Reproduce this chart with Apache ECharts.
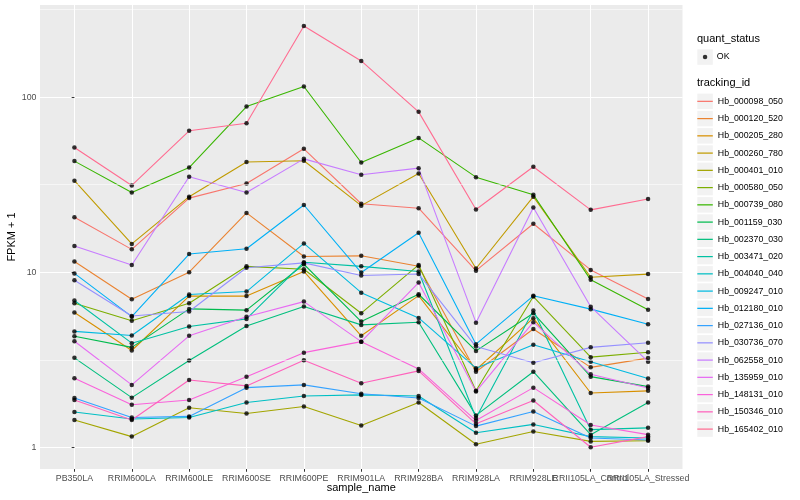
<!DOCTYPE html>
<html>
<head>
<meta charset="utf-8">
<script src="https://cdn.jsdelivr.net/npm/echarts@6/dist/echarts.min.js"></script>
<style>html,body{margin:0;padding:0;background:#fff}#c{width:800px;height:500px}</style>
</head>
<body>
<div id="c"></div>
<script>
const categories = ["PB350LA","RRIM600LA","RRIM600LE","RRIM600SE","RRIM600PE","RRIM901LA","RRIM928BA","RRIM928LA","RRIM928LE","RRII105LA_Control","RRII105LA_Stressed"];
const trackingIds = ["Hb_000098_050","Hb_000120_520","Hb_000205_280","Hb_000260_780","Hb_000401_010","Hb_000580_050","Hb_000739_080","Hb_001159_030","Hb_002370_030","Hb_003471_020","Hb_004040_040","Hb_009247_010","Hb_012180_010","Hb_027136_010","Hb_030736_070","Hb_062558_010","Hb_135959_010","Hb_148131_010","Hb_150346_010","Hb_165402_010"];
const colors = ["#F8766D","#EA8331","#D89000","#C09B00","#A3A500","#7CAE00","#39B600","#00BB4E","#00BF7D","#00C1A3","#00BFC4","#00BAE0","#00B0F6","#35A2FF","#9590FF","#C77CFF","#E76BF3","#FA62DB","#FF62BC","#FF6C91"];

// FPKM + 1 per sample, in category order
const Hb_000098_050 = [20.6, 13.5, 26.5, 32.1, 50.7, 24.6, 23.2, 10.2, 18.9, 10.3, 7.02];
const Hb_000120_520 = [11.5, 7.01, 10.0, 21.8, 12.3, 12.4, 10.8, 2.70, 4.74, 2.86, 3.23];
const Hb_000205_280 = [5.89, 3.57, 7.30, 7.30, 10.1, 4.33, 7.35, 2.77, 5.46, 2.04, 2.10];
const Hb_000260_780 = [33.3, 14.5, 27.0, 42.6, 43.3, 24.0, 36.6, 10.5, 27.0, 9.35, 9.75];
const Hb_000401_010 = [1.43, 1.15, 1.68, 1.56, 1.71, 1.33, 1.80, 1.04, 1.23, 1.08, 1.09];
const Hb_000580_050 = [6.65, 5.28, 6.65, 10.8, 10.4, 5.83, 11.0, 2.10, 7.26, 3.27, 3.49];
const Hb_000739_080 = [43.1, 28.5, 39.6, 88.3, 115, 42.3, 58.5, 34.9, 27.7, 9.04, 6.10];
const Hb_001159_030 = [4.31, 3.72, 6.17, 6.07, 11.1, 5.22, 7.48, 3.55, 5.83, 2.53, 2.22];
const Hb_002370_030 = [3.24, 1.92, 3.13, 4.93, 6.36, 5.00, 5.18, 1.52, 2.70, 1.18, 1.80];
const Hb_003471_020 = [6.89, 3.93, 4.89, 5.41, 11.4, 10.8, 10.1, 1.47, 6.04, 1.26, 1.29];
const Hb_004040_040 = [1.59, 1.45, 1.48, 1.80, 1.96, 1.99, 1.96, 1.21, 1.35, 1.15, 1.13];
const Hb_009247_010 = [4.59, 4.35, 7.45, 7.75, 14.6, 7.64, 5.48, 2.83, 3.85, 3.08, 2.47];
const Hb_012180_010 = [9.84, 5.57, 12.7, 13.6, 24.2, 9.95, 16.8, 3.88, 7.33, 6.15, 5.04];
const Hb_027136_010 = [1.91, 1.48, 1.50, 2.19, 2.27, 2.02, 1.91, 1.32, 1.60, 1.13, 1.10];
const Hb_030736_070 = [9.00, 5.62, 5.96, 10.6, 11.3, 9.57, 9.77, 3.76, 3.04, 3.72, 3.95];
const Hb_062558_010 = [14.1, 11.0, 35.1, 28.5, 44.4, 36.0, 39.3, 5.15, 23.4, 6.35, 3.08];
const Hb_135959_010 = [4.03, 2.27, 4.33, 5.57, 6.79, 4.01, 8.73, 2.08, 5.18, 2.61, 2.18];
const Hb_148131_010 = [2.48, 1.75, 1.86, 2.53, 3.47, 4.01, 2.80, 1.42, 2.19, 1.34, 1.18];
const Hb_150346_010 = [1.86, 1.43, 2.42, 2.24, 3.14, 2.32, 2.73, 1.36, 1.85, 1.00, 1.15];
const Hb_165402_010 = [51.5, 31.3, 64.2, 71.0, 255, 161, 82.4, 22.8, 40.0, 22.7, 26.2];

const seriesValues = {Hb_000098_050, Hb_000120_520, Hb_000205_280, Hb_000260_780, Hb_000401_010, Hb_000580_050, Hb_000739_080, Hb_001159_030, Hb_002370_030, Hb_003471_020, Hb_004040_040, Hb_009247_010, Hb_012180_010, Hb_027136_010, Hb_030736_070, Hb_062558_010, Hb_135959_010, Hb_148131_010, Hb_150346_010, Hb_165402_010};

const yTickLabels = [1, 10, 100];
const yMinorBreaks = [3.1623, 31.623, 316.23];
const xTickIndex = categories.map((c, i) => i);
// labels are split over two axes so that the two overlapping ones are both kept, as in the original
const xLabelsA = xTickIndex.filter(i => i !== 9);
const xLabelsB = [9];

const FONT = '"Liberation Sans", Arial, Helvetica, sans-serif';
const chart = echarts.init(document.getElementById('c'), null, {renderer: 'canvas'});

const lineSeries = trackingIds.map((id, k) => ({
  name: id,
  type: 'line',
  data: seriesValues[id].map((v, i) => [i, v]),
  symbol: 'none',
  showSymbol: false,
  lineStyle: {color: colors[k], width: 1.1},
  itemStyle: {color: colors[k]},
  emphasis: {disabled: true},
  z: 2
}));

const okPoints = [];
trackingIds.forEach(id => seriesValues[id].forEach((v, i) => okPoints.push([i, v])));

const graphics = [];
graphics.push({type: 'text', left: 697, top: 33, style: {text: 'quant_status', fontSize: 11, fill: '#000', fontFamily: FONT}});
graphics.push({type: 'text', left: 697, top: 77.5, style: {text: 'tracking_id', fontSize: 11, fill: '#000', fontFamily: FONT}});
graphics.push({type: 'rect', shape: {x: 697.3, y: 49.3, width: 15.5, height: 15.5}, style: {fill: '#F2F2F2'}, z: -1});
trackingIds.forEach((id, i) => {
  graphics.push({type: 'rect', shape: {x: 697.3, y: 93.6 + i * 17.25, width: 15.5, height: 15.5}, style: {fill: '#F2F2F2'}, z: -1});
});

const xLabelStyle = {fontSize: 8.8, color: '#4D4D4D', margin: 5.5, fontFamily: FONT, hideOverlap: false, showMinLabel: true, showMaxLabel: true,
  formatter: v => categories[Math.round(v)] || ''};

const option = {
  animation: false,
  backgroundColor: '#fff',
  textStyle: {fontFamily: FONT},
  grid: {left: 40, right: 117.5, top: 5, bottom: 31, show: true, backgroundColor: '#EBEBEB', borderWidth: 0, containLabel: false, outerBoundsMode: 'none'},
  xAxis: [{
    type: 'value', min: -0.6, max: 10.6, position: 'bottom',
    name: 'sample_name', nameLocation: 'middle', nameGap: 13.5, nameMoveOverlap: false,
    nameTextStyle: {fontSize: 11, color: '#000', fontFamily: FONT},
    axisLine: {show: false},
    axisTick: {show: true, length: 2.75, lineStyle: {color: '#333', width: 1}, customValues: xTickIndex},
    axisLabel: Object.assign({customValues: xLabelsA}, xLabelStyle),
    splitLine: {show: true, lineStyle: {color: '#fff', width: 1.07}}
  }, {
    type: 'value', min: -0.6, max: 10.6, position: 'bottom', offset: 0,
    axisLine: {show: false},
    axisTick: {show: false, customValues: xLabelsB},
    axisLabel: Object.assign({customValues: xLabelsB}, xLabelStyle),
    splitLine: {show: false}
  }],
  yAxis: {
    type: 'log', logBase: 10, min: 0.751, max: 336,
    name: 'FPKM + 1', nameLocation: 'middle', nameGap: 22.5, nameRotate: 90, nameMoveOverlap: false,
    nameTextStyle: {fontSize: 11, color: '#000', fontFamily: FONT},
    axisLine: {show: false},
    axisTick: {show: true, length: 2.75, lineStyle: {color: '#333', width: 1}, customValues: yTickLabels},
    axisLabel: {customValues: yTickLabels, fontSize: 8.8, color: '#4D4D4D', margin: 3.5, fontFamily: FONT, showMinLabel: true, showMaxLabel: true},
    splitLine: {show: true, lineStyle: {color: '#fff', width: 1.07}}
  },
  legend: [
    {
      data: ['OK'], left: 702.8, top: 49, orient: 'vertical', padding: 0,
      itemWidth: 4.5, itemHeight: 4.5, icon: 'circle',
      textStyle: {fontSize: 8.8, color: '#000', fontFamily: FONT, lineHeight: 16, padding: [0, 0, 0, 4.5]},
      selectedMode: false
    },
    {
      data: trackingIds, left: 697.3, top: 93.35, orient: 'vertical', padding: 0,
      itemWidth: 15.5, itemHeight: 16, itemGap: 1.25,
      icon: 'path://M0,0L100,0L100,8L0,8Z',
      textStyle: {fontSize: 8.8, color: '#000', fontFamily: FONT, lineHeight: 16},
      selectedMode: false
    }
  ],
  graphic: graphics,
  series: [{
    name: 'minor-grid', type: 'line', data: [], silent: true, z: 1,
    markLine: {
      silent: true, symbol: 'none', label: {show: false}, animation: false,
      lineStyle: {color: '#fff', width: 0.55, type: 'solid'},
      emphasis: {disabled: true},
      data: yMinorBreaks.map(v => ({yAxis: v}))
    }
  }].concat(lineSeries).concat([{
    name: 'OK', type: 'scatter', data: okPoints, symbol: 'circle', symbolSize: 4.5,
    itemStyle: {color: '#000'}, emphasis: {disabled: true}, z: 3
  }])
};
chart.setOption(option);
</script>
</body>
</html>
